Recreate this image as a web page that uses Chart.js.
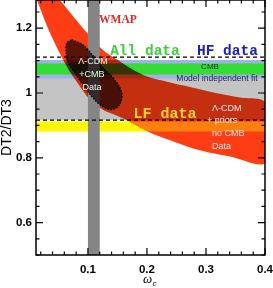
<!DOCTYPE html>
<html><head><meta charset="utf-8">
<script src="https://cdn.jsdelivr.net/npm/chart.js@4.4.1/dist/chart.umd.min.js"></script>
<style>html,body{margin:0;padding:0;background:#fff;}#wrap{width:273px;height:288px;}</style>
</head><body><div id="wrap"><canvas id="c" width="273" height="288"></canvas></div>
<script>
// ---- data ----
const xRange = [0.012, 0.4];
const yRange = [0.5, 1.287];
const xMajorTicks = [0.1, 0.2, 0.3, 0.4];
const yMajorTicks = [0.6, 0.8, 1.0, 1.2];
const xMinorStep = 0.02;
const yMinorStep = 0.05;

// Lambda-CDM + priors, no CMB data (red banana)
const bananaUpperX = [0.0525, 0.0983, 0.1254, 0.1508, 0.1763, 0.2017, 0.2339, 0.2644, 0.3068, 0.3576, 0.400];
const bananaUpperY = [1.287, 1.186, 1.133, 1.102, 1.072, 1.050, 1.035, 1.022, 1.004, 0.986, 0.970];
const bananaLowerX = [0.400, 0.3407, 0.2847, 0.222, 0.188, 0.1678, 0.1458, 0.1254, 0.1034, 0.083, 0.0644, 0.0356, 0.0136];
const bananaLowerY = [0.785, 0.804, 0.8255, 0.8655, 0.893, 0.9145, 0.933, 0.9486, 0.979, 1.029, 1.081, 1.186, 1.287];

// Lambda-CDM + CMB data (dark ellipse)
const ellipseX = [0.0724, 0.0915, 0.1068, 0.1237, 0.1424, 0.1542, 0.1576, 0.1508, 0.1373, 0.1203, 0.1068, 0.0915, 0.0780, 0.0661, 0.0627, 0.0644, 0.0724];
const ellipseY = [1.164, 1.149, 1.119, 1.081, 1.047, 1.016, 0.986, 0.958, 0.949, 0.964, 0.989, 1.026, 1.062, 1.096, 1.133, 1.155, 1.164];

const wmapBand = [0.100, 0.120];
const modelFitBand = [0.916, 1.044];
const hfBand = [1.044, 1.102];
const allDataBand = [1.056, 1.092];
const lfBand = [0.881, 0.912];
const dashedLevels = [1.111, 0.916];

// ---- helpers ----
function pts(xs, ys) { return xs.map((x, i) => ({x: x, y: ys[i]})); }
function hRect(y0, y1) { return [{x:xRange[0],y:y0},{x:xRange[1],y:y0},{x:xRange[1],y:y1},{x:xRange[0],y:y1},{x:xRange[0],y:y0}]; }
function vRect(x0, x1) { return [{x:x0,y:yRange[0]},{x:x1,y:yRange[0]},{x:x1,y:yRange[1]},{x:x0,y:yRange[1]},{x:x0,y:yRange[0]}]; }
function area(data, color, blend, tension) {
  return {data: data, fill: 'shape', backgroundColor: color, borderColor: 'rgba(0,0,0,0)', borderWidth: 0,
          pointRadius: 0, tension: tension || 0, blend: blend || 'source-over'};
}
function hline(v) {
  return {data: [{x:xRange[0],y:v},{x:xRange[1],y:v}], fill: false, borderColor: '#000', borderWidth: 1.3,
          borderDash: [4, 3], pointRadius: 0, blend: 'source-over'};
}

// bottom -> top
const layers = [
  area(hRect(lfBand[0], lfBand[1]), '#fafa0c'),
  area(pts(bananaUpperX, bananaUpperY).concat(pts(bananaLowerX, bananaLowerY)), '#ff3d14', 'source-over', 0.3),
  area(hRect(modelFitBand[0], modelFitBand[1]), '#c4c4c4', 'multiply'),
  area(hRect(allDataBand[1], hfBand[1]), '#a6acf0', 'multiply'),
  area(hRect(hfBand[0], allDataBand[0]), '#a6acf0', 'multiply'),
  area(hRect(allDataBand[0], allDataBand[1]), '#33dd33', 'multiply'),
  area(hRect(lfBand[0], lfBand[1]), 'rgba(255,245,0,0.36)'),
  area(vRect(wmapBand[0], wmapBand[1]), '#858585'),
  hline(dashedLevels[0]),
  hline(dashedLevels[1]),
  Object.assign(area(pts(ellipseX, ellipseY), 'rgba(12,0,0,0.68)', 'source-over', 0.35),
    {borderColor: '#000', borderWidth: 1.4, borderDash: [1.5, 1.5]})
];
layers.forEach((d, i) => { d.order = layers.length - i; });

function majorOf(v, list) { const m = list.find(t => Math.abs(t - v) < 1e-6); return m === undefined ? null : m; }

const blendPlugin = {
  id: 'blendPlugin',
  beforeDatasetsDraw(chart) {
    const metas = chart.getSortedVisibleDatasetMetas();
    const m = metas[metas.length - 1];
    chart.ctx.globalCompositeOperation = chart.data.datasets[m.index].blend || 'source-over';
  },
  afterDatasetDraw(chart, args) {
    const metas = chart.getSortedVisibleDatasetMetas();
    const pos = metas.indexOf(args.meta);
    const nx = metas[pos - 1];
    chart.ctx.globalCompositeOperation = nx ? (chart.data.datasets[nx.index].blend || 'source-over') : 'source-over';
  },
  afterDatasetsDraw(chart) { chart.ctx.globalCompositeOperation = 'source-over'; }
};

const notes = [
  ['WMAP', 0.1508, 1.2255, 'bold 11.5px "Liberation Serif"', '#dc2b2b', 'center'],
  ['All data', 0.1966, 1.127, 'bold 14.5px "Liberation Mono"', '#3fcf3f', 'center'],
  ['HF data', 0.3364, 1.127, 'bold 14.5px "Liberation Mono"', '#2020b8', 'center'],
  ['LF data', 0.2305, 0.936, 'bold 15px "Liberation Mono"', '#f2cf35', 'center'],
  ['CMB', 0.3068, 1.081, '8px "Liberation Sans"', '#1a2540', 'center'],
  ['Model independent fit', 0.3186, 1.044, '8.5px "Liberation Sans"', '#1a2540', 'center'],
  ['Λ-CDM', 0.1085, 1.096, '9px "Liberation Sans"', '#eeeeee', 'center'],
  ['+CMB', 0.1068, 1.056, '9px "Liberation Sans"', '#d8ffd8', 'center'],
  ['Data', 0.1068, 1.016, '9px "Liberation Sans"', '#f4f4f4', 'center'],
  ['Λ-CDM', 0.310, 0.952, '9px "Liberation Sans"', '#fbeaea', 'left'],
  ['+ priors', 0.3017, 0.915, '9px "Liberation Sans"', '#fbeaea', 'left'],
  ['no CMB', 0.310, 0.875, '9px "Liberation Sans"', '#fbeaea', 'left'],
  ['Data', 0.310, 0.835, '9px "Liberation Sans"', '#fbeaea', 'left']
];

const decor = {
  id: 'decor',
  afterDatasetsDraw(chart) {
    const ctx = chart.ctx, a = chart.chartArea, xs = chart.scales.x, ys = chart.scales.y;
    ctx.save();
    ctx.globalCompositeOperation = 'source-over';
    ctx.textBaseline = 'middle';
    notes.forEach(n => {
      ctx.font = n[3]; ctx.fillStyle = n[4]; ctx.textAlign = n[5];
      ctx.fillText(n[0], xs.getPixelForValue(n[1]), ys.getPixelForValue(n[2]));
    });
    ctx.strokeStyle = '#000'; ctx.lineWidth = 1.5;
    ctx.strokeRect(a.left, a.top, a.right - a.left, a.bottom - a.top);
    ctx.lineWidth = 1.2;
    xs.ticks.forEach(t => {
      const p = xs.getPixelForValue(t.value);
      const L = majorOf(t.value, xMajorTicks) !== null ? 7 : 3.5;
      ctx.beginPath();
      ctx.moveTo(p, a.bottom); ctx.lineTo(p, a.bottom - L);
      ctx.moveTo(p, a.top); ctx.lineTo(p, a.top + L);
      ctx.stroke();
    });
    ys.ticks.forEach(t => {
      const p = ys.getPixelForValue(t.value);
      const L = majorOf(t.value, yMajorTicks) !== null ? 7 : 3.5;
      ctx.beginPath();
      ctx.moveTo(a.left, p); ctx.lineTo(a.left + L, p);
      ctx.moveTo(a.right, p); ctx.lineTo(a.right - L, p);
      ctx.stroke();
    });
    // x-axis title: omega with subscript c
    const cx = (a.left + a.right) / 2;
    ctx.fillStyle = '#000'; ctx.textAlign = 'center';
    ctx.font = 'italic 13px "Liberation Serif"';
    ctx.fillText('ω', cx - 3, a.bottom + 25);
    ctx.font = 'italic 8px "Liberation Sans"';
    ctx.fillText('c', cx + 4, a.bottom + 29);
    ctx.restore();
  }
};

const tickFont = {family: '"Liberation Sans", Arial, sans-serif', size: 11.5, weight: 'bold'};

new Chart(document.getElementById('c'), {
  type: 'line',
  data: {datasets: layers},
  options: {
    responsive: false, animation: false, devicePixelRatio: 1,
    layout: {padding: {left: 0, right: 8, top: 0, bottom: 0}},
    plugins: {legend: {display: false}, tooltip: {enabled: false}},
    scales: {
      x: {
        type: 'linear', min: xRange[0], max: xRange[1],
        grid: {display: false, drawTicks: false}, border: {display: false},
        ticks: {stepSize: xMinorStep, autoSkip: false, maxRotation: 0, includeBounds: false, padding: 8,
                color: '#000', font: tickFont,
                callback: v => { const m = majorOf(v, xMajorTicks); return m === null ? '' : String(m); }},
        title: {display: false},
        afterFit: s => { s.height = 33; s.paddingLeft = 0; s.paddingRight = 0; }
      },
      y: {
        type: 'linear', min: yRange[0], max: yRange[1],
        grid: {display: false, drawTicks: false}, border: {display: false},
        ticks: {stepSize: yMinorStep, autoSkip: false, includeBounds: false, padding: 4,
                color: '#000', font: tickFont,
                callback: v => { const m = majorOf(v, yMajorTicks); return m === null ? '' : String(m); }},
        title: {display: true, text: 'DT2/DT3', color: '#000', padding: {top: 0, bottom: 0},
                font: {family: '"Liberation Sans", Arial, sans-serif', size: 14, lineHeight: 1}},
        afterFit: s => { s.width = 36; s.paddingTop = 0; s.paddingBottom = 0; }
      }
    }
  },
  plugins: [blendPlugin, decor]
});
</script>
</body></html>
